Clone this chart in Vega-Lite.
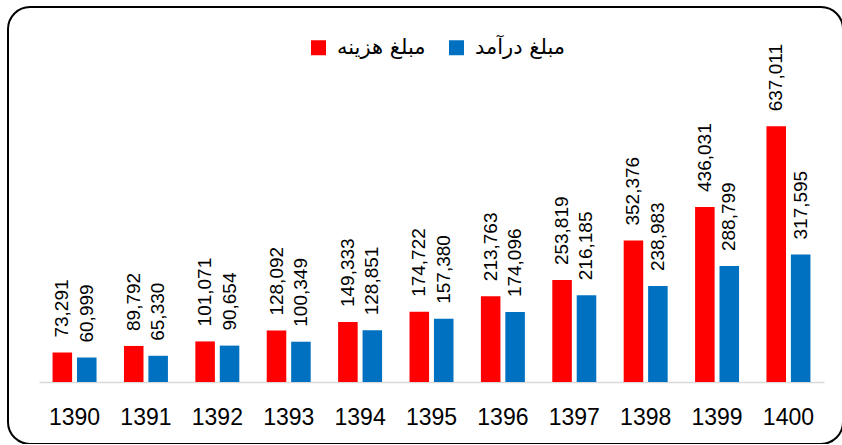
{
  "$schema": "https://vega.github.io/schema/vega-lite/v6.json",
  "width": 835,
  "height": 437,
  "autosize": {"type": "none"},
  "padding": {"left": 8, "top": 7, "right": 0, "bottom": 0},
  "config": {
    "view": {"stroke": "black", "strokeWidth": 2, "cornerRadius": 22},
    "font": "Liberation Sans"
  },
  "data": {
    "values": [
      {"year": "1390", "series": "مبلغ هزینه", "value": 73291},
      {"year": "1390", "series": "مبلغ درآمد", "value": 60999},
      {"year": "1391", "series": "مبلغ هزینه", "value": 89792},
      {"year": "1391", "series": "مبلغ درآمد", "value": 65330},
      {"year": "1392", "series": "مبلغ هزینه", "value": 101071},
      {"year": "1392", "series": "مبلغ درآمد", "value": 90654},
      {"year": "1393", "series": "مبلغ هزینه", "value": 128092},
      {"year": "1393", "series": "مبلغ درآمد", "value": 100349},
      {"year": "1394", "series": "مبلغ هزینه", "value": 149333},
      {"year": "1394", "series": "مبلغ درآمد", "value": 128851},
      {"year": "1395", "series": "مبلغ هزینه", "value": 174722},
      {"year": "1395", "series": "مبلغ درآمد", "value": 157380},
      {"year": "1396", "series": "مبلغ هزینه", "value": 213763},
      {"year": "1396", "series": "مبلغ درآمد", "value": 174096},
      {"year": "1397", "series": "مبلغ هزینه", "value": 253819},
      {"year": "1397", "series": "مبلغ درآمد", "value": 216185},
      {"year": "1398", "series": "مبلغ هزینه", "value": 352376},
      {"year": "1398", "series": "مبلغ درآمد", "value": 238983},
      {"year": "1399", "series": "مبلغ هزینه", "value": 436031},
      {"year": "1399", "series": "مبلغ درآمد", "value": 288799},
      {"year": "1400", "series": "مبلغ هزینه", "value": 637011},
      {"year": "1400", "series": "مبلغ درآمد", "value": 317595}
    ]
  },
  "encoding": {
    "x": {
      "field": "year",
      "type": "nominal",
      "scale": {"range": [31, 816], "paddingInner": 0.384, "paddingOuter": 0.19},
      "axis": {
        "orient": "bottom",
        "offset": -62,
        "title": null,
        "labelAngle": 0,
        "ticks": false,
        "grid": false,
        "domainColor": "#d9d9d9",
        "domainWidth": 1.5,
        "labelFontSize": 23,
        "labelColor": "black",
        "labelPadding": 24
      }
    },
    "xOffset": {
      "field": "series",
      "sort": ["مبلغ هزینه", "مبلغ درآمد"],
      "scale": {"paddingInner": 0.2}
    },
    "y": {
      "field": "value",
      "type": "quantitative",
      "scale": {"domain": [0, 700000], "range": [375, 94]},
      "axis": null
    }
  },
  "layer": [
    {
      "mark": {"type": "bar"},
      "encoding": {
        "color": {
          "field": "series",
          "type": "nominal",
          "scale": {"domain": ["مبلغ هزینه", "مبلغ درآمد"], "range": ["#FF0000", "#0070C0"]},
          "legend": {
            "orient": "none",
            "legendX": 300,
            "legendY": 30,
            "direction": "horizontal",
            "title": null,
            "symbolType": "square",
            "symbolSize": 225,
            "symbolStrokeWidth": 0,
            "labelFont": "DejaVu Sans",
            "labelFontSize": 21,
            "labelColor": "black",
            "labelOffset": 8,
            "columnPadding": 20
          }
        }
      }
    },
    {
      "mark": {"type": "text", "angle": 270, "align": "left", "baseline": "middle", "dx": 15, "fontSize": 19, "color": "black"},
      "encoding": {"text": {"field": "value", "type": "quantitative", "format": ","}}
    }
  ]
}
